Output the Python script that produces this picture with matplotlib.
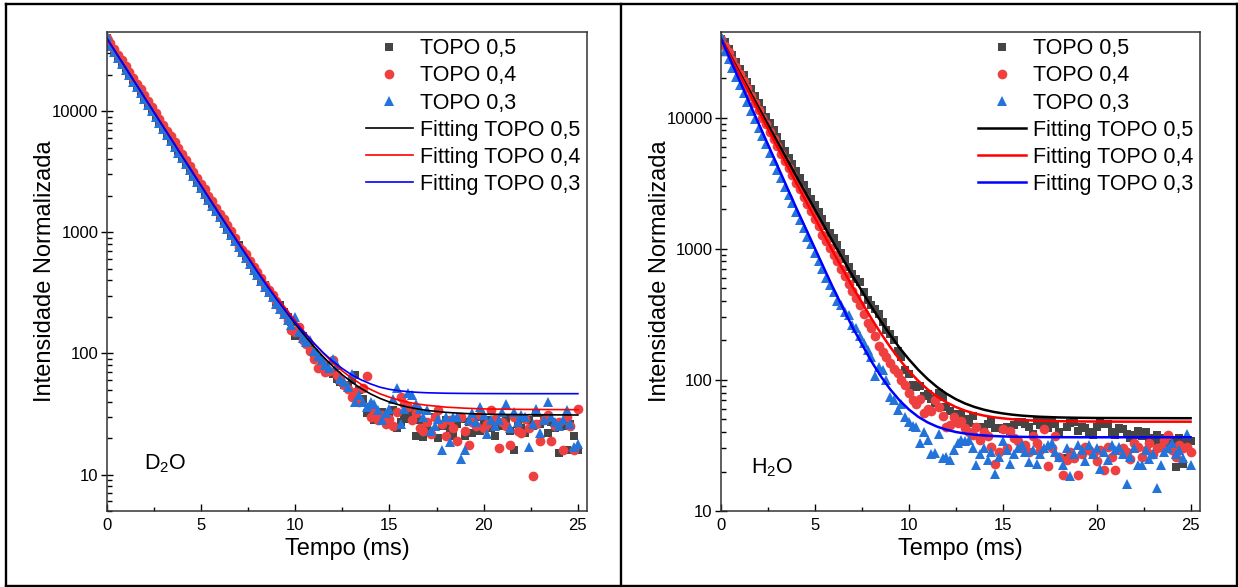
import numpy as np
import matplotlib
matplotlib.use('Agg')
import matplotlib.pyplot as plt
from matplotlib.lines import Line2D
from matplotlib.ticker import LogLocator, NullFormatter, MultipleLocator

plt.rcParams['font.family'] = ['Liberation Sans', 'DejaVu Sans']
plt.rcParams['mathtext.default'] = 'regular'

DT = 0.2  # sampling step of the decay curves (ms)

# ---- D2O panel: measured intensities, t = 0 .. 25 ms ----
d2o_topo05 = [40000, 35000, 31500, 28000, 25200, 22500, 20000, 18000, 16000, 14300,
              12800, 11400, 10200, 9100, 8200, 7300, 6500, 5800, 5200, 4650,
              4150, 3700, 3300, 2950, 2650, 2380, 2100, 1850, 1700, 1500,
              1350, 1250, 1080, 960, 880, 790, 680, 640, 570, 510,
              460, 400, 370, 330, 300, 265, 250, 220, 200, 180,
              140, 160, 140, 125, 112, 100, 92, 85, 78, 70,
              68, 62, 58, 55, 52, 60, 66, 50, 42, 32,
              36, 28, 30, 33, 27, 30, 34, 24, 27, 31,
              29, 33, 21, 28, 20.5, 26, 23, 30, 20, 25,
              28, 24, 21, 26, 29, 21, 27, 22, 30, 23,
              26, 28, 24, 21, 27, 25, 29, 23, 16, 26,
              24, 22, 28, 25, 32, 26, 29, 22, 27, 24,
              15, 25, 16, 26, 21, 16]
d2o_topo04 = [40500, 36500, 32800, 29300, 26300, 23500, 21000, 18900, 16900, 15100,
              13500, 12100, 10800, 9700, 8650, 7750, 6900, 6200, 5550, 4950,
              4450, 3950, 3550, 3150, 2820, 2520, 2280, 1980, 1820, 1600,
              1420, 1290, 1140, 1030, 900, 760, 720, 660, 580, 520,
              470, 420, 370, 335, 305, 270, 235, 215, 190, 155,
              150, 165, 130, 120, 105, 90, 76, 84, 70, 72,
              88, 66, 60, 55, 51, 44, 48, 40, 52, 65,
              30, 33, 28, 31, 26, 29, 25, 33, 44, 38,
              36, 28, 32, 24, 23, 27, 21.5, 30, 34, 26,
              21, 28, 24, 19, 30, 23, 17.5, 27, 25, 31,
              24, 26, 34, 29, 16.5, 27, 25, 17.5, 30, 23,
              22, 29, 24, 9.8, 26, 19, 28, 31, 19, 25,
              27, 16, 30, 25, 16, 34.5]
d2o_topo03 = [42000, 34500, 30800, 27500, 24600, 22000, 19700, 17500, 15700, 14000,
              12500, 11200, 10000, 8950, 8000, 7150, 6400, 5700, 5100, 4550,
              4080, 3650, 3250, 2920, 2600, 2330, 2080, 1860, 1660, 1490,
              1330, 1190, 1070, 950, 850, 760, 690, 610, 545, 490,
              440, 395, 350, 320, 290, 255, 232, 210, 190, 172,
              200, 150, 135, 125, 129, 105, 96, 88, 80, 76,
              90, 80, 62, 58, 53, 68, 40, 45, 40, 36,
              40, 38, 34, 28, 32, 35, 42, 52, 26, 35,
              47, 45, 38, 35, 30, 34, 23, 25, 29, 16,
              30, 18.5, 30, 30, 13.5, 16, 28, 32, 27, 36,
              31, 21.5, 28, 25, 28, 33, 38, 24, 33, 27,
              31, 30, 17, 26, 35, 22, 28, 40, 30, 27,
              25, 28, 34, 26, 17, 18]

# ---- H2O panel: measured intensities, t = 0 .. 25 ms ----
h2o_topo05 = [40000, 37500, 33500, 30000, 26800, 23700, 21000, 18600, 16500, 14700,
              13000, 11500, 10200, 9100, 8000, 7100, 6300, 5600, 4950, 4400,
              3900, 3450, 3050, 2700, 2400, 2150, 1900, 1700, 1500, 1320,
              1200, 1060, 930, 830, 730, 640, 590, 560, 470, 410,
              370, 350, 320, 275, 240, 225, 200, 165, 150, 120,
              110, 92, 88, 90, 76, 78, 72, 67, 80, 74.5,
              62, 58, 55, 52, 55, 50, 47, 53, 44, 44,
              43, 46, 49, 43, 43, 42, 44, 41, 45, 48,
              48, 46, 44, 39, 49, 45, 48, 43, 48, 46,
              40, 25.5, 44, 47, 48, 41, 44, 43, 40, 38,
              44, 47, 46, 46, 40, 38, 43, 42, 39, 36,
              38, 41, 37, 40, 36, 34, 38, 33.5, 36, 32,
              35, 21.8, 36, 23, 35, 34]
h2o_topo04 = [40000, 35500, 31500, 27500, 24500, 21500, 19000, 16800, 14700, 13000,
              11500, 10000, 8900, 7800, 6900, 6050, 5300, 4700, 4150, 3650,
              3200, 2850, 2500, 2200, 1950, 1700, 1500, 1280, 1150, 1020,
              890, 800, 700, 620, 540, 480, 420, 370, 320, 270,
              250, 215, 180, 164, 150, 135, 122, 112, 100, 92,
              80, 70, 66, 72, 56, 60, 58, 70, 62, 53,
              44, 45, 52, 47, 49, 43, 40, 38, 44, 35,
              40, 37, 31, 23, 28, 42, 30, 41, 36, 34,
              30, 32, 28, 37, 33, 29, 42, 22, 30, 37,
              26, 18.8, 24.5, 28, 25.5, 18.8, 27, 31, 29, 27,
              24, 29, 20.5, 31, 26, 20.5, 29, 30, 28, 25,
              33, 31, 26, 29, 33, 27, 30, 31, 35, 38,
              29, 26, 32, 30, 31, 28]
h2o_topo03 = [42000, 32500, 28000, 24000, 20500, 17800, 15300, 13200, 11300, 9800,
              8400, 7250, 6250, 5400, 4650, 4000, 3450, 2980, 2580, 2220,
              1920, 1660, 1430, 1240, 1080, 930, 810, 700, 600, 530,
              470, 400, 370, 330, 310, 260, 248, 215, 190, 170,
              150, 108, 126, 120, 100, 74, 70, 59, 65, 52,
              48, 44.6, 44, 32.8, 40, 35, 27, 27.5, 38.7, 25.5,
              26, 24.5, 29, 33, 35, 34, 35, 30, 22.3, 27,
              30, 24.5, 28, 19.2, 26, 34, 29, 23, 27, 30,
              31.8, 28, 23.5, 29, 23, 27, 30, 32, 33, 28,
              26, 22.3, 30, 18.5, 27, 31.8, 29, 24, 31.8, 27,
              30, 21, 28, 24.5, 31.8, 29, 31, 27, 16, 26,
              30, 22.3, 22.3, 29, 25, 27, 15, 22.3, 28, 30,
              33, 27, 29, 25.5, 38.7, 22.3]

# ---- fitted curves ----
fit_t = [0, 2, 4, 6, 7, 8, 8.5, 9, 9.5, 10, 10.5, 11, 11.5, 12, 12.5, 13, 13.5,
         14, 14.5, 15, 15.5, 16, 16.5, 17, 18, 19, 20, 22, 25]
d2o_fit05 = [40030, 13030, 4260, 1400, 814, 477, 368, 285, 223, 176, 141, 114, 93.4,
             78.1, 66.6, 57.9, 51.3, 46.3, 42.5, 39.7, 37.6, 36.0, 34.8, 33.8, 32.6,
             31.9, 31.5, 31.2, 31.0]
d2o_fit04 = [40030, 13030, 4260, 1400, 820, 480, 372, 290, 236, 186, 150, 121, 100,
             83.8, 71.7, 62.5, 55.6, 50.4, 46.4, 43.5, 41.2, 39.5, 38.2, 37.3, 36.0,
             35.3, 34.8, 34.5, 34.3]
d2o_fit03 = [40050, 13000, 4250, 1390, 805, 470, 362, 283, 224, 180, 147, 121, 101,
             86, 75, 66.5, 60.5, 56, 52.6, 50.5, 49.2, 48.3, 47.7, 47.3, 46.9,
             46.7, 46.6, 46.5, 46.5]
h2o_fit05 = [40050, 11940, 3584, 1101, 623, 363, 281, 221, 176, 143.6, 119.4, 101.5,
             88.3, 78.5, 71.3, 66, 62.1, 59.2, 57.05, 55.5, 54.3, 53.4, 52.8, 52.3,
             51.7, 51.4, 51.2, 51.1, 51.0]
h2o_fit04 = [40050, 11260, 3188, 928, 514, 295, 227.6, 178.7, 143, 117.1, 98.3, 84.6,
             74.6, 67.4, 62.1, 58.2, 55.45, 53.4, 51.9, 50.9, 50.1, 49.5, 49.1, 48.8,
             48.4, 48.2, 48.1, 48.0, 48.0]
h2o_fit03 = [40040, 9036, 2058, 491.5, 252, 139, 107, 85, 69.9, 59.5, 52.3, 47.4, 44,
             41.7, 40.05, 38.95, 38.2, 37.7, 37.3, 37.05, 36.9, 36.76, 36.66, 36.6,
             36.55, 36.5, 36.5, 36.5, 36.5]

series_labels = ['TOPO 0,5', 'TOPO 0,4', 'TOPO 0,3']
marker_styles = [('s', '#454545', 5.8), ('o', '#EE4040', 7.0), ('^', '#2373DB', 7.6)]
line_colors = ['black', '#FF0000', '#0000FF']

W, H = 1238, 587
fig = plt.figure(figsize=(W / 100, H / 100), dpi=100)


def px_axes(x0, x1, y0, y1):
    return fig.add_axes([x0 / W, 1 - y1 / H, (x1 - x0) / W, (y1 - y0) / H])


def draw_panel(ax, data, fits, ylim, tag, tag_xy, lw):
    for y, lab, (m, c, ms) in zip(data, series_labels, marker_styles):
        t = np.arange(len(y)) * DT
        ax.plot(t, y, ls='none', marker=m, color=c, ms=ms, mew=0, label=lab)
    for y, lab, c in zip(fits, series_labels, line_colors):
        ax.plot(fit_t, y, color=c, lw=lw, label='Fitting ' + lab)
    ax.set_yscale('log')
    ax.set_xlim(0, 25.5)
    ax.set_ylim(*ylim)
    ax.set_yticks([10, 100, 1000, 10000])
    ax.set_yticklabels(['10', '100', '1000', '10000'])
    ax.yaxis.set_minor_locator(LogLocator(base=10, subs=np.arange(2, 10)))
    ax.yaxis.set_minor_formatter(NullFormatter())
    ax.set_xticks([0, 5, 10, 15, 20, 25])
    ax.xaxis.set_minor_locator(MultipleLocator(2.5))
    ax.tick_params(axis='x', which='major', direction='in', length=5, width=1, pad=5, labelsize=12)
    ax.tick_params(axis='x', which='minor', direction='in', length=3, width=1)
    ax.tick_params(axis='y', which='major', direction='inout', length=8, width=1, pad=2, labelsize=12)
    ax.tick_params(axis='y', which='minor', direction='in', length=3.5, width=1)
    for s in ax.spines.values():
        s.set_linewidth(1.1)
        s.set_color('#333333')
    ax.set_xlabel('Tempo (ms)', fontsize=17, labelpad=4)
    ax.set_ylabel('Intensidade Normalizada', fontsize=17, labelpad=-3)
    ax.text(tag_xy[0], tag_xy[1], tag, fontsize=15.5, va='center', ha='left')
    ax.legend(loc='upper right', frameon=False, fontsize=15.5, handlelength=2.2,
              handletextpad=0.35, labelspacing=0.28, borderpad=0.1, borderaxespad=0.2)


ax1 = px_axes(106.7, 587.3, 32, 511)
draw_panel(ax1, [d2o_topo05, d2o_topo04, d2o_topo03],
           [d2o_fit05, d2o_fit04, d2o_fit03], (5, 45000),
           'D$_2$O', (2.0, 12.3), 1.2)

ax2 = px_axes(721, 1200, 32, 511)
draw_panel(ax2, [h2o_topo05, h2o_topo04, h2o_topo03],
           [h2o_fit05, h2o_fit04, h2o_fit03], (10, 45000),
           'H$_2$O', (1.6, 21.3), 1.8)

# cell borders around the two panels
def border(x0, y0, x1, y1):
    fig.add_artist(Line2D([x0 / W, x1 / W], [1 - y0 / H, 1 - y1 / H],
                          color='black', lw=1.7, transform=fig.transFigure))

border(5.5, 3.7, 1236.5, 3.7)
border(5.5, 586, 1236.5, 586)
border(5.5, 3.7, 5.5, 586)
border(621.2, 3.7, 621.2, 586)
border(1236.5, 3.7, 1236.5, 586)

fig.savefig('out.png', dpi=100)
